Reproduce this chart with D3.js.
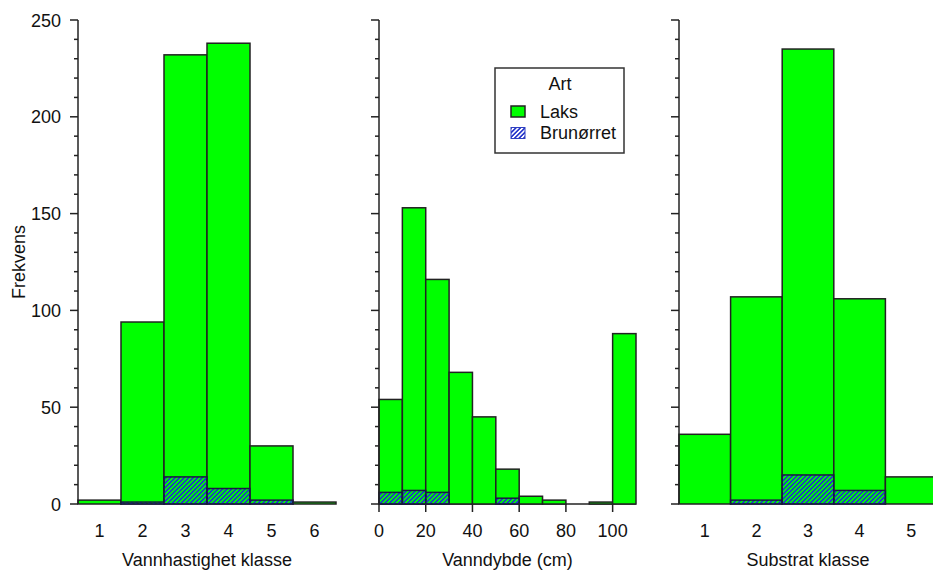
<!DOCTYPE html>
<html>
<head>
<meta charset="utf-8">
<script src="https://cdn.jsdelivr.net/npm/d3@7"></script>
<style>
  html, body { margin: 0; padding: 0; background: #fff; }
  svg { display: block; font-family: "Liberation Sans", Arial, sans-serif; }
</style>
</head>
<body>
<svg id="chart" width="933" height="572"></svg>
<script>
// ---------- data ----------
const yTicks = [0, 50, 100, 150, 200, 250];
const velClasses = [1, 2, 3, 4, 5, 6];
const velLaks = [2, 94, 232, 238, 30, 1];
const velBrown = [0, 1, 14, 8, 2, 0];
const depthBinStarts = [0, 10, 20, 30, 40, 50, 60, 70, 80, 90, 100];
const depthLaks = [54, 153, 116, 68, 45, 18, 4, 2, 0, 1, 88];
const depthBrown = [6, 7, 6, 0, 0, 3, 0, 0, 0, 0, 0];
const depthTicks = [0, 20, 40, 60, 80, 100];
const subClasses = [1, 2, 3, 4, 5];
const subLaks = [36, 107, 235, 106, 14];
const subBrown = [0, 2, 15, 7, 0];
const legendItems = ["Laks", "Brunørret"];

// ---------- setup ----------
const svg = d3.select("#chart");
const GREEN = "#00ff00", STROKE = "#222", HATCH = "#2233cc";
const defs = svg.append("defs");
const pat = defs.append("pattern").attr("id", "hatch")
  .attr("patternUnits", "userSpaceOnUse").attr("width", 3.2).attr("height", 3.2)
  .attr("patternTransform", "rotate(45)");
pat.append("rect").attr("x", 0).attr("y", 0).attr("width", 1.6).attr("height", 3.2).attr("fill", HATCH);

const y = d3.scaleLinear().domain([0, 250]).range([504, 20]);

function yAxis(x0, labels) {
  const g = svg.append("g");
  g.append("line").attr("x1", x0).attr("x2", x0).attr("y1", y(250)).attr("y2", y(0))
    .attr("stroke", STROKE).attr("stroke-width", 1.5);
  const minor = d3.range(0, 251, 10);
  g.selectAll("line.t").data(minor).enter().append("line")
    .attr("x1", d => x0 - (d % 50 === 0 ? 8 : 4)).attr("x2", x0)
    .attr("y1", d => y(d)).attr("y2", d => y(d))
    .attr("stroke", STROKE).attr("stroke-width", 1.5);
  if (labels) {
    g.selectAll("text").data(yTicks).enter().append("text")
      .attr("x", x0 - 17).attr("y", d => y(d) + 6.5)
      .attr("text-anchor", "end").attr("font-size", 18).attr("fill", "#111")
      .text(d => d);
  }
}

function bars(xs, starts, widths, laks, brown) {
  const g = svg.append("g");
  starts.forEach((s, i) => {
    const x1 = xs(s), x2 = xs(s + widths);
    if (laks[i] > 0) {
      g.append("rect").attr("x", x1).attr("y", y(laks[i]))
        .attr("width", x2 - x1).attr("height", y(0) - y(laks[i]))
        .attr("fill", GREEN).attr("stroke", STROKE).attr("stroke-width", 1.5);
    }
  });
  starts.forEach((s, i) => {
    const x1 = xs(s), x2 = xs(s + widths);
    if (brown[i] > 0) {
      g.append("rect").attr("x", x1).attr("y", y(brown[i]))
        .attr("width", x2 - x1).attr("height", y(0) - y(brown[i]))
        .attr("fill", "url(#hatch)").attr("stroke", "#1a1a40").attr("stroke-width", 1.5);
    }
  });
}

function title(text, xc) {
  svg.append("text").attr("x", xc).attr("y", 566).attr("text-anchor", "middle")
    .attr("font-size", 18).attr("fill", "#111").text(text);
}

// ---------- panel 1: velocity ----------
const xVel = d3.scaleLinear().domain([0.5, 6.5]).range([78, 336]);
bars(xVel, velClasses.map(c => c - 0.5), 1, velLaks, velBrown);
yAxis(78, true);
svg.append("g").selectAll("text").data(velClasses).enter().append("text")
  .attr("x", d => xVel(d)).attr("y", 536.5).attr("text-anchor", "middle")
  .attr("font-size", 18).attr("fill", "#111").text(d => d);
title("Vannhastighet klasse", (xVel(0.5) + xVel(6.5)) / 2);

// ---------- panel 2: depth ----------
const xDep = d3.scaleLinear().domain([0, 110]).range([379, 636]);
svg.append("line").attr("x1", xDep(0)).attr("x2", xDep(110)).attr("y1", y(0)).attr("y2", y(0))
  .attr("stroke", STROKE).attr("stroke-width", 1.5);
bars(xDep, depthBinStarts, 10, depthLaks, depthBrown);
yAxis(379, false);
const dg = svg.append("g");
dg.selectAll("line").data(depthTicks).enter().append("line")
  .attr("x1", d => xDep(d)).attr("x2", d => xDep(d)).attr("y1", y(0)).attr("y2", y(0) + 8)
  .attr("stroke", STROKE).attr("stroke-width", 1.5);
dg.selectAll("text").data(depthTicks).enter().append("text")
  .attr("x", d => xDep(d)).attr("y", 536.5).attr("text-anchor", "middle")
  .attr("font-size", 18).attr("fill", "#111").text(d => d);
title("Vanndybde (cm)", (xDep(0) + xDep(110)) / 2);

// ---------- panel 3: substrate ----------
const xSub = d3.scaleLinear().domain([0.5, 5.5]).range([679, 937]);
bars(xSub, subClasses.map(c => c - 0.5), 1, subLaks, subBrown);
yAxis(679, false);
svg.append("g").selectAll("text").data(subClasses).enter().append("text")
  .attr("x", d => xSub(d)).attr("y", 536.5).attr("text-anchor", "middle")
  .attr("font-size", 18).attr("fill", "#111").text(d => d);
title("Substrat klasse", (xSub(0.5) + xSub(5.5)) / 2);

// ---------- y title ----------
svg.append("text").attr("transform", `translate(25,${(y(0) + y(250)) / 2}) rotate(-90)`)
  .attr("text-anchor", "middle").attr("font-size", 18).attr("fill", "#111").text("Frekvens");

// ---------- legend ----------
const lg = svg.append("g");
lg.append("rect").attr("x", 495).attr("y", 68).attr("width", 129).attr("height", 85)
  .attr("fill", "#fff").attr("stroke", "#333").attr("stroke-width", 1.5);
lg.append("text").attr("x", 560).attr("y", 90).attr("text-anchor", "middle")
  .attr("font-size", 18).attr("fill", "#111").text("Art");
legendItems.forEach((name, i) => {
  const yy = 106 + i * 21.5;
  if (i === 0) {
    lg.append("rect").attr("x", 511).attr("y", yy).attr("width", 14).attr("height", 11)
      .attr("fill", GREEN).attr("stroke", STROKE).attr("stroke-width", 1.5);
  } else {
    lg.append("rect").attr("x", 511).attr("y", yy).attr("width", 14).attr("height", 11)
      .attr("fill", "#fff");
    lg.append("rect").attr("x", 511).attr("y", yy).attr("width", 14).attr("height", 11)
      .attr("fill", "url(#hatch)").attr("stroke", "#3040c0").attr("stroke-width", 1);
  }
  lg.append("text").attr("x", 540).attr("y", yy + 11.5).attr("font-size", 18)
    .attr("fill", "#111").text(name);
});
</script>
</body>
</html>
